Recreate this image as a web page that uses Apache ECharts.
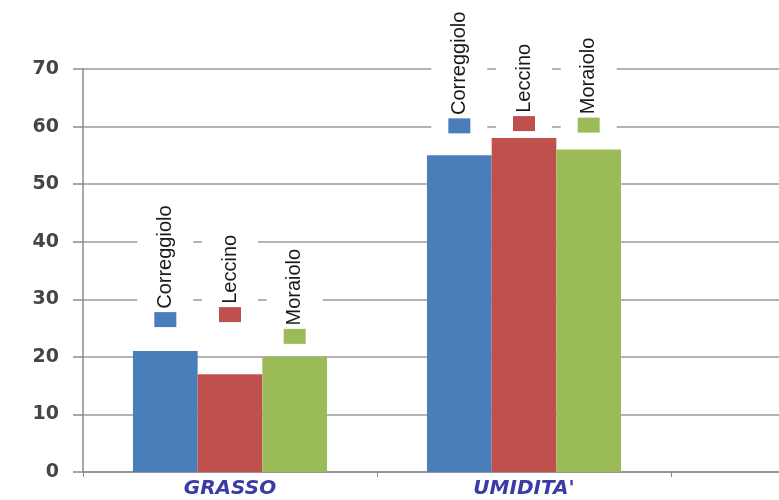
<!DOCTYPE html>
<html>
<head>
<meta charset="utf-8">
<script src="https://cdn.jsdelivr.net/npm/echarts@6/dist/echarts.min.js"></script>
<style>
  html, body { margin: 0; padding: 0; background: #fff; overflow: hidden; }
  /* il grafico originale è tagliato a destra: la terza categoria esce dal quadro */
  #chart { width: 965px; height: 500px; }
</style>
</head>
<body>
<div id="chart"></div>
<script>
  const categories = ['GRASSO', "UMIDITA'", ''];
  const seriesNames = ['Correggiolo', 'Leccino', 'Moraiolo'];
  const correggiolo = [21, 55];
  const leccino = [17, 58];
  const moraiolo = [20, 56];
  const yMin = 0, yMax = 70, yStep = 10;

  // stile per serie: colore e distanza etichetta dalla barra (per categoria)
  const styles = [
    { color: '#4a7ebb', gaps: [20, 18] },
    { color: '#c0504d', gaps: [48, 3] },
    { color: '#9bbb59', gaps: [9, 13] }
  ];

  const chart = echarts.init(document.getElementById('chart'));
  const values = [correggiolo, leccino, moraiolo];

  let series = [];
  for (let i = 0; i < seriesNames.length; i++) {
    series.push({
      name: seriesNames[i],
      type: 'bar',
      barGap: '0%',
      barCategoryGap: '34%',
      itemStyle: { color: styles[i].color },
      data: values[i].map((v, j) => ({
        value: v,
        label: { distance: styles[i].gaps[j] }
      })),
      label: {
        show: true,
        position: 'top',
        rotate: 90,
        align: 'left',
        verticalAlign: 'middle',
        backgroundColor: '#fff',
        padding: [17, 4],
        formatter: '{m|} {t|' + seriesNames[i] + '}',
        rich: {
          m: { width: 15, height: 22, backgroundColor: styles[i].color },
          t: { fontFamily: 'Liberation Sans', fontSize: 20, color: '#1a1a1a' }
        }
      }
    });
  }

  const option = {
    backgroundColor: '#fff',
    animation: false,
    grid: {
      left: 83,
      right: 0,
      top: 69,
      bottom: 28
    },
    xAxis: {
      type: 'category',
      data: categories,
      axisLine: { lineStyle: { color: '#8a8a8a', width: 1.5 } },
      axisTick: { show: true, length: 5, lineStyle: { color: '#8a8a8a' } },
      axisLabel: {
        margin: 7,
        fontFamily: 'DejaVu Sans',
        fontWeight: 'bold',
        fontStyle: 'italic',
        fontSize: 20,
        color: '#3b3ba6'
      }
    },
    yAxis: {
      type: 'value',
      min: yMin,
      max: yMax,
      interval: yStep,
      axisLine: { show: true, lineStyle: { color: '#8a8a8a', width: 1.5 } },
      axisTick: { show: true, length: 10, lineStyle: { color: '#8a8a8a', width: 1.5 } },
      axisLabel: {
        margin: 24,
        fontFamily: 'DejaVu Sans',
        fontWeight: 'bold',
        fontSize: 19,
        color: '#454545'
      },
      splitLine: { lineStyle: { color: '#9a9a9a', width: 1.5 } }
    },
    series: series
  };
  chart.setOption(option);
</script>
</body>
</html>
